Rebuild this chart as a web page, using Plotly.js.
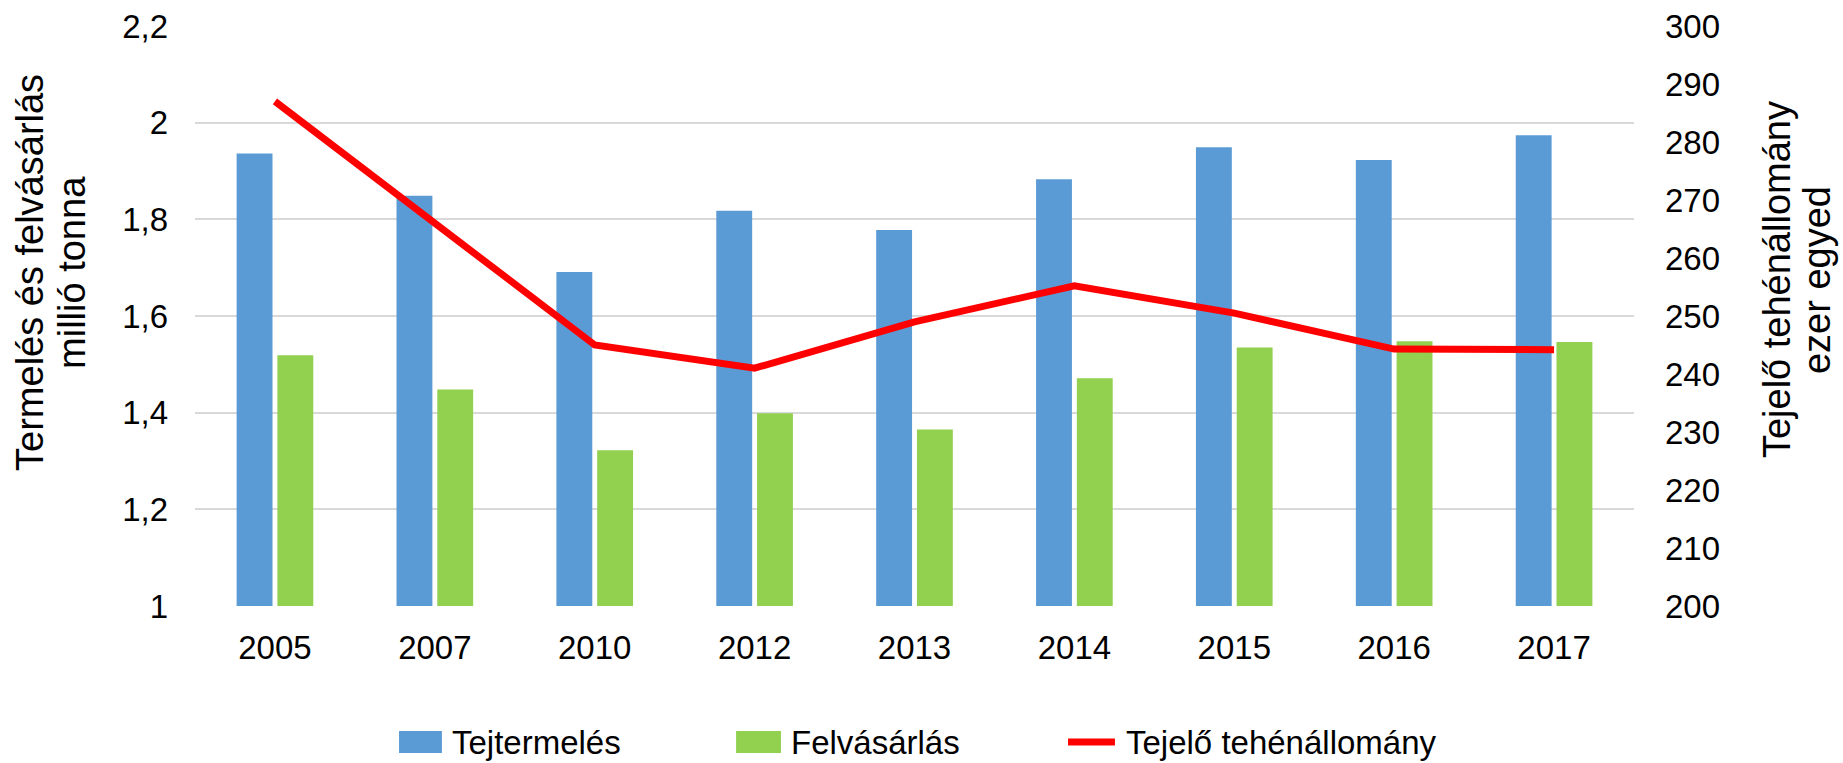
<!DOCTYPE html>
<html>
<head>
<meta charset="utf-8">
<script src="https://cdn.plot.ly/plotly-3.0.1.min.js"></script>
<style>
  html, body { margin: 0; padding: 0; background: #fff; }
  #plot { width: 1843px; height: 763px; }
</style>
</head>
<body>
<div id="plot"></div>
<script>
// Évek (kategóriák)
const years = ["2005", "2007", "2010", "2012", "2013", "2014", "2015", "2016", "2017"];

// Tejtermelés és felvásárlás, millió tonna (bal tengely)
const tejtermeles = [1.936, 1.849, 1.691, 1.818, 1.778, 1.883, 1.949, 1.923, 1.974];
const felvasarlas = [1.519, 1.448, 1.322, 1.399, 1.365, 1.471, 1.535, 1.548, 1.546];

// Tejelő tehénállomány, ezer egyed (jobb tengely)
const tehenallomany = [287, 266, 245, 241, 249, 255.2, 250.5, 244.3, 244.2];

const FONT = "Liberation Sans, Arial, sans-serif";
const BLUE = "#5B9BD5";
const GREEN = "#92D050";
const RED = "#FF0000";

const traceTej = {
  x: years,
  y: tejtermeles,
  type: "bar",
  name: "Tejtermelés",
  marker: { color: BLUE },
};

const traceFelv = {
  x: years,
  y: felvasarlas,
  type: "bar",
  name: "Felvásárlás",
  marker: { color: GREEN },
};

const traceAll = {
  x: years,
  y: tehenallomany,
  type: "scatter",
  mode: "lines",
  name: "Tejelő tehénállomány",
  yaxis: "y2",
  line: { color: RED, width: 7 },
};

// Jelmagyarázat kézzel (Excel-szerű széles minták)
const legendY = -0.2345;
const legendItems = [
  { label: "Tejtermelés", kind: "rect", color: BLUE, x0: 0.1418, x1: 0.1716, tx: 0.1772 },
  { label: "Felvásárlás", kind: "rect", color: GREEN, x0: 0.376, x1: 0.4072, tx: 0.4128 },
  { label: "Tejelő tehénállomány", kind: "line", color: RED, x0: 0.6067, x1: 0.6393, tx: 0.6456 },
];

const legendShapes = legendItems.map((it) =>
  it.kind === "rect"
    ? {
        type: "rect", xref: "paper", yref: "paper",
        x0: it.x0, x1: it.x1, y0: legendY - 0.019, y1: legendY + 0.019,
        fillcolor: it.color, line: { width: 0 },
      }
    : {
        type: "line", xref: "paper", yref: "paper",
        x0: it.x0, x1: it.x1, y0: legendY, y1: legendY,
        line: { color: it.color, width: 7 },
      }
);

const legendLabels = legendItems.map((it) => ({
  text: it.label,
  xref: "paper", yref: "paper",
  x: it.tx, y: legendY,
  xanchor: "left", yanchor: "middle",
  showarrow: false,
  font: { family: FONT, size: 33, color: "#000" },
}));

function axisTitle(text, x, y) {
  return {
    text: text,
    xref: "paper", yref: "paper",
    x: x, y: y,
    xanchor: "center", yanchor: "middle",
    textangle: -90,
    showarrow: false,
    font: { family: FONT, size: 38, color: "#000" },
  };
}

const layout = {
  width: 1843,
  height: 763,
  margin: { l: 195, r: 209, t: 26, b: 157 },
  paper_bgcolor: "#fff",
  plot_bgcolor: "#fff",
  separators: ", ",
  font: { family: FONT, size: 33, color: "#000" },
  barmode: "group",
  bargap: 0.49,
  bargroupgap: 0.12,
  showlegend: false,
  xaxis: {
    type: "category",
    showgrid: false,
    showline: false,
    ticks: "",
    ticklabelstandoff: 19,
  },
  yaxis: {
    range: [1, 2.2],
    dtick: 0.2,
    showgrid: true,
    gridcolor: "#D9D9D9",
    gridwidth: 2,
    zeroline: false,
    showline: false,
    ticks: "",
    ticklabelstandoff: 26,
  },
  yaxis2: {
    range: [200, 300],
    dtick: 10,
    overlaying: "y",
    side: "right",
    showgrid: false,
    zeroline: false,
    showline: false,
    ticks: "",
    ticklabelstandoff: 30,
  },
  shapes: legendShapes,
  annotations: [
    axisTitle("Termelés és felvásárlás", -0.1147, 0.5759),
    axisTitle("millió tonna", -0.0855, 0.5759),
    axisTitle("Tejelő tehénállomány", 1.0994, 0.562),
    axisTitle("ezer egyed", 1.1272, 0.562),
  ].concat(legendLabels),
};

Plotly.newPlot("plot", [traceTej, traceFelv, traceAll], layout, { displayModeBar: false });
</script>
</body>
</html>
